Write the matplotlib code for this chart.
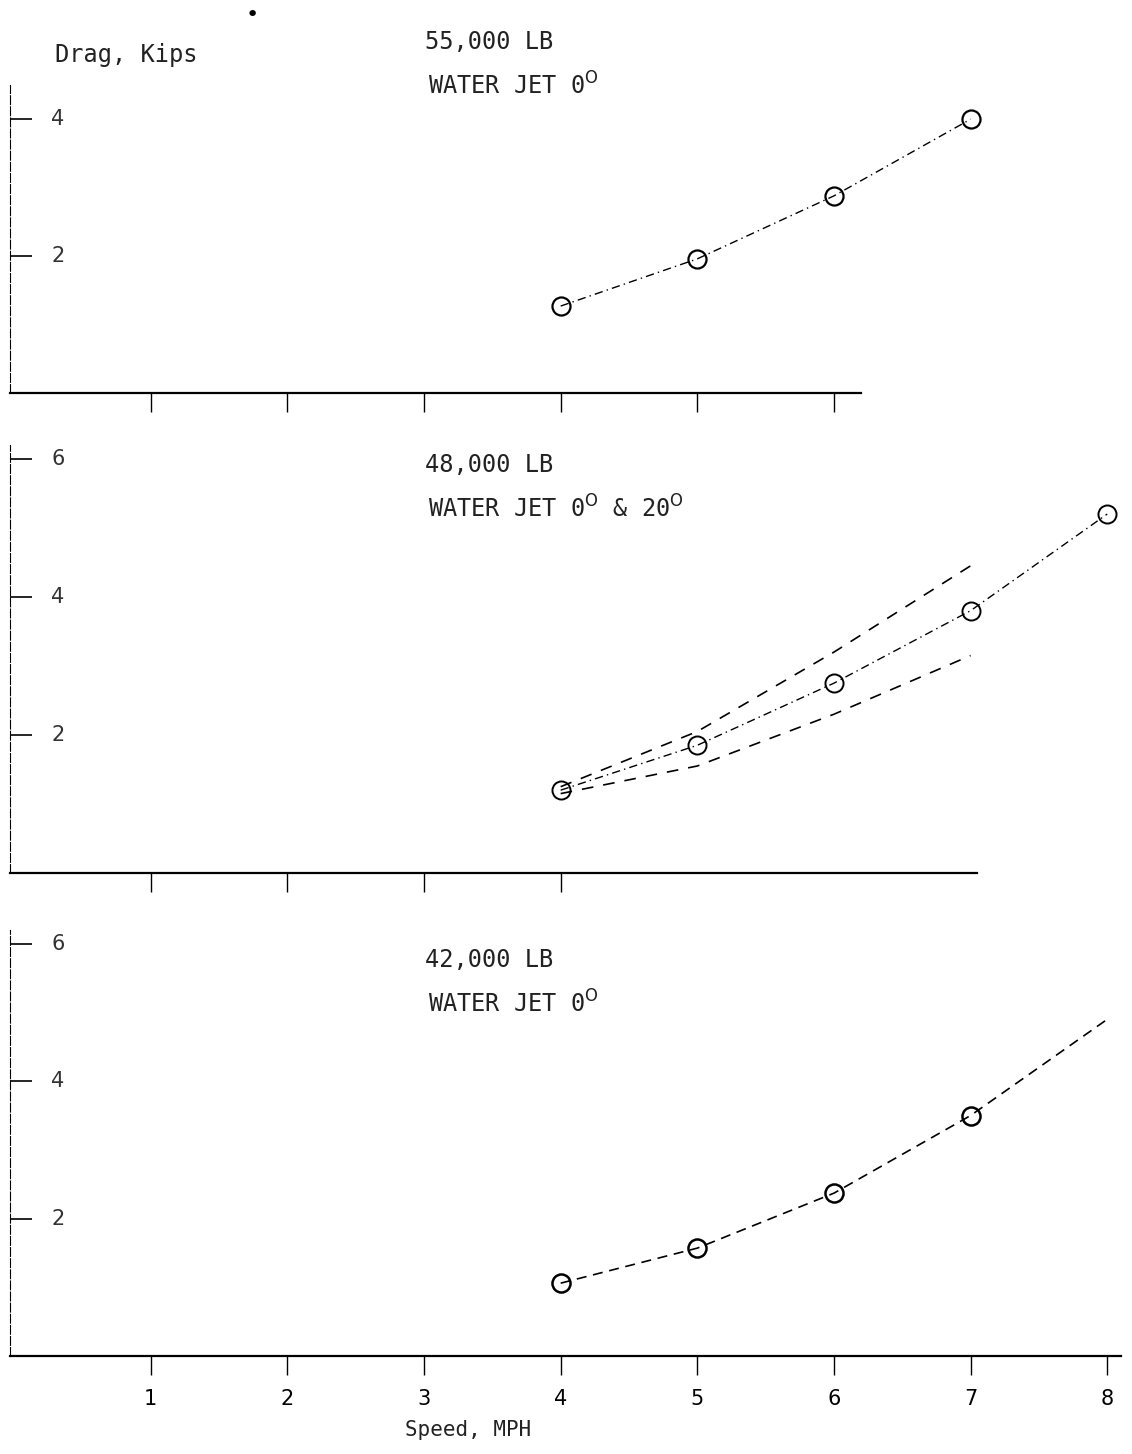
import matplotlib.pyplot as plt

# speeds (MPH)
speed = [4, 5, 6, 7, 8]

# 55,000 LB, water jet 0 deg
drag_55 = [1.27, 1.96, 2.88, 4.0]

# 48,000 LB, water jet 0 & 20 deg
drag_48_pts = [1.2, 1.85, 2.75, 3.8, 5.2]
drag_48_upper = [1.25, 2.05, 3.2, 4.45]
drag_48_lower = [1.15, 1.55, 2.3, 3.15]

# 42,000 LB, water jet 0 deg
drag_42 = [1.06, 1.57, 2.37, 3.5, 4.9]

x_ticks = [1, 2, 3, 4, 5, 6, 7, 8]

W, H = 1132, 1454
fig = plt.figure(figsize=(W / 100, H / 100), dpi=100)

# axes positions (fig fraction) picked to line up with the scan
left, width = 10 / W, 1115 / W
ax1 = fig.add_axes([left, 1 - 393 / H, width, 308 / H])
ax2 = fig.add_axes([left, 1 - 873 / H, width, 428 / H])
ax3 = fig.add_axes([left, 1 - 1356 / H, width, 426 / H])

mono = 'DejaVu Sans Mono'
deg = '$^{\\mathrm{O}}$'

setup = [
    (ax1, 4.5, [2, 4], 6.2, x_ticks[:6], '55,000 LB', 'WATER JET 0' + deg, 42),
    (ax2, 6.2, [2, 4, 6], 7.05, x_ticks[:4], '48,000 LB',
     'WATER JET 0' + deg + ' & 20' + deg, 465),
    (ax3, 6.2, [2, 4, 6], 8.1, x_ticks, '42,000 LB', 'WATER JET 0' + deg, 960),
]

for ax, ytop, yt, xend, xt, t1, t2, ty in setup:
    ax.set_xlim(-0.03, 8.13)
    ax.set_ylim(0, ytop)
    ax.patch.set_alpha(0)
    ax.spines['top'].set_visible(False)
    ax.spines['right'].set_visible(False)
    ax.spines['bottom'].set_bounds(-0.03, xend)
    ax.spines['bottom'].set_linewidth(1.6)
    ax.spines['left'].set_linewidth(0.8)
    ax.spines['left'].set_linestyle((0, (8, 2)))
    ax.set_yticks(yt)
    ax.set_yticklabels([])
    ax.tick_params(axis='y', direction='in', length=16, width=1.2)
    for v in yt:
        ax.text(0.037, v, str(v), transform=ax.get_yaxis_transform(),
                fontsize=15, va='center', ha='left', color='#333333')
    ax.set_xticks(xt)
    ax.set_xticklabels([])
    ax.tick_params(axis='x', direction='out', length=14, width=1.0)
    fig.text(425 / W, 1 - ty / H, t1, fontsize=17, family=mono,
             ha='left', va='center', color='#222222')
    fig.text(428 / W, 1 - (ty + 44) / H, t2, fontsize=17, family=mono,
             ha='left', va='center', color='#222222')

ax3.set_xticklabels([str(t) for t in x_ticks], fontsize=15)
ax3.tick_params(axis='x', pad=10)

ax1.plot(speed[:4], drag_55, color='black', lw=1.0, ls=(0, (6, 3, 1, 3)),
         marker='o', ms=13, mfc='none', mew=1.6)

ax2.plot(speed, drag_48_pts, color='black', lw=1.0, ls=(0, (6, 3, 1, 3)),
         marker='o', ms=13, mfc='none', mew=1.4)
ax2.plot(speed[:4], drag_48_upper, color='black', lw=1.2, ls=(0, (7, 6)))
ax2.plot(speed[:4], drag_48_lower, color='black', lw=1.2, ls=(0, (7, 6)))

ax3.plot(speed, drag_42, color='black', lw=1.2, ls=(0, (6, 4)),
         marker='o', ms=13, mfc='none', mew=1.8, markevery=[0, 1, 2, 3])

fig.text(55 / W, 1 - 55 / H, 'Drag, Kips', fontsize=17, family=mono, ha='left',
         va='center', color='#222222')
fig.text(468 / W, 1 - 1430 / H, 'Speed, MPH', fontsize=15, family=mono,
         ha='center', va='center', color='#222222')
fig.text(252 / W, 1 - 15 / H, '\u2022', fontsize=16, ha='center', va='center')

fig.savefig('out.png', dpi=100)
